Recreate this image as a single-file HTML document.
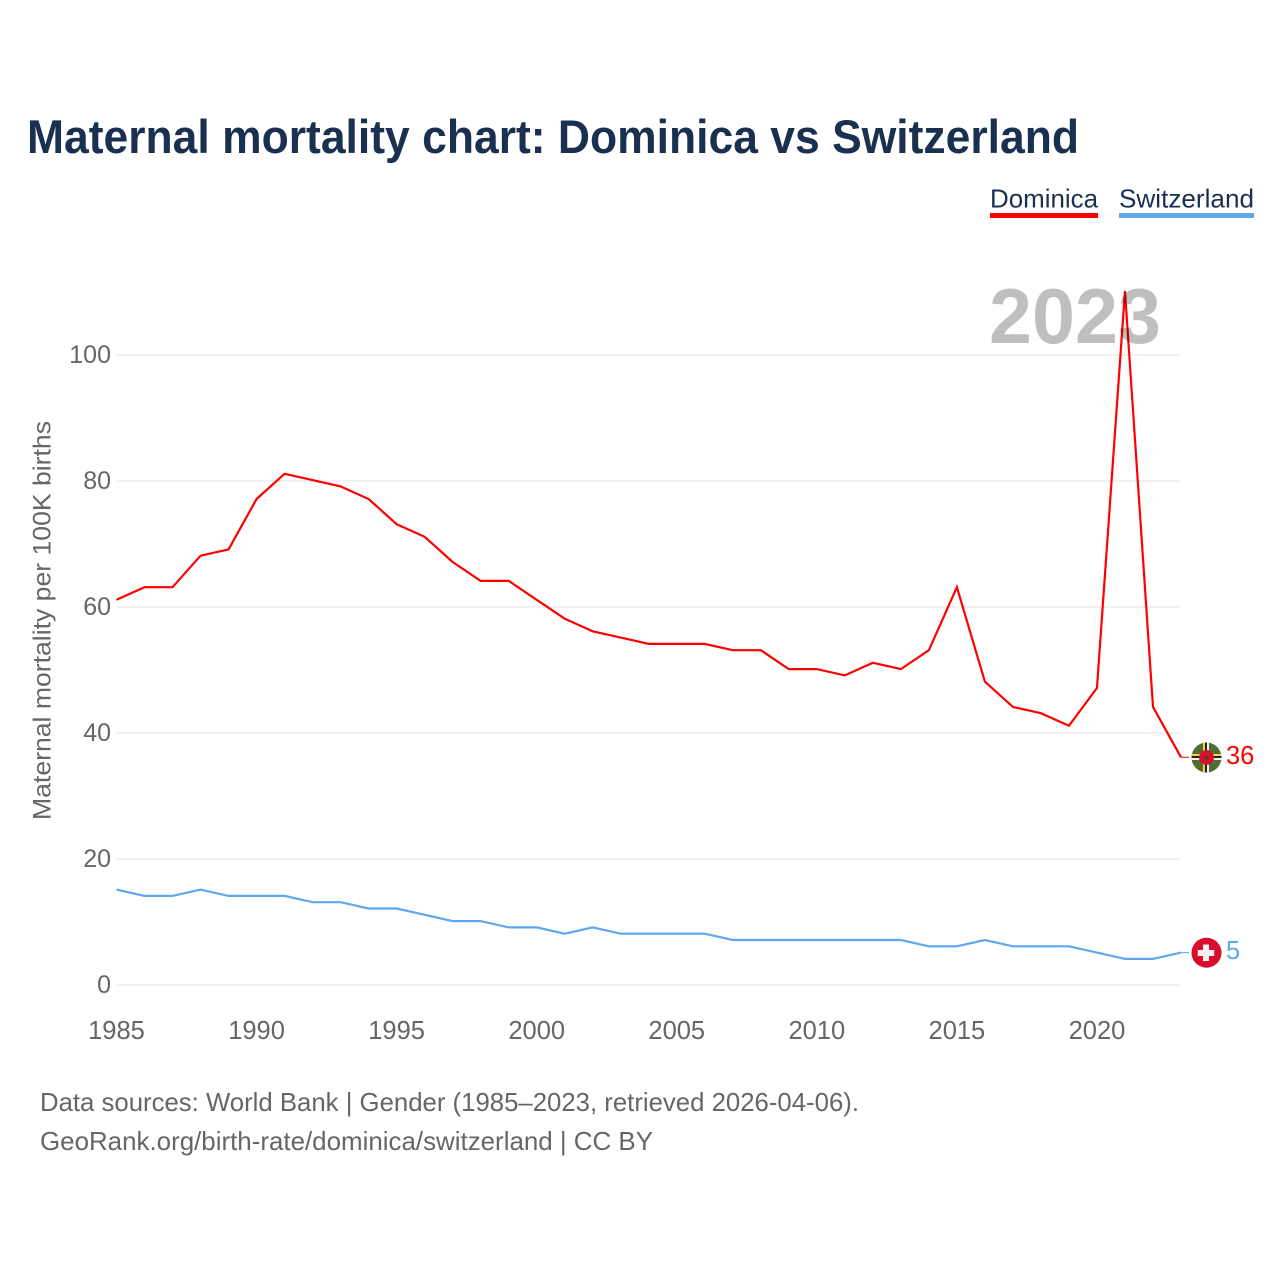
<!DOCTYPE html>
<html lang="en">
<head>
<meta charset="utf-8">
<title>Maternal mortality chart: Dominica vs Switzerland</title>
<style>
html,body{margin:0;padding:0;background:#fff;}
svg{display:block;}
text{font-family:"Liberation Sans",Arial,sans-serif;}
</style>
</head>
<body>
<svg id="chart" width="1280" height="1280" viewBox="0 0 1280 1280" xmlns="http://www.w3.org/2000/svg">
  <rect x="0" y="0" width="1280" height="1280" fill="#ffffff"/>
  <text x="27" y="153" font-size="47" font-weight="700" fill="#1a3050" textLength="1052" lengthAdjust="spacingAndGlyphs">Maternal mortality chart: Dominica vs Switzerland</text>

  <g>
    <text x="990" y="207.5" font-size="26" fill="#1a3050" textLength="108" lengthAdjust="spacingAndGlyphs">Dominica</text>
    <rect x="990" y="213" width="108" height="5" fill="#ff0000"/>
  </g>
  <g>
    <text x="1119" y="207.5" font-size="26" fill="#1a3050" textLength="135" lengthAdjust="spacingAndGlyphs">Switzerland</text>
    <rect x="1119" y="213" width="135" height="5" fill="#5fa8ee"/>
  </g>

  <g id="grid"></g>
  <g id="yticks"></g>
  <g id="xticks"></g>

  <text transform="translate(50.5,820) rotate(-90)" x="0" y="0" font-size="25" fill="#666666" textLength="399" lengthAdjust="spacingAndGlyphs">Maternal mortality per 100K births</text>

  <g id="series" transform="translate(0,-0.9)"></g>

  <text x="989" y="343" font-size="78" font-weight="700" fill="#000000" fill-opacity="0.25" textLength="172" lengthAdjust="spacingAndGlyphs">2023</text>

  <defs>
    <clipPath id="flag-clip-dm"><circle cx="1206.5" cy="757.5" r="15"/></clipPath>
    <clipPath id="flag-clip-ch"><circle cx="1206.5" cy="952.7" r="15"/></clipPath>
  </defs>

  <g clip-path="url(#flag-clip-dm)">
    <rect x="1191" y="742" width="31" height="31" fill="#4f7030"/>
    <rect x="1203" y="742" width="2" height="31" fill="#f5d442"/>
    <rect x="1205" y="742" width="2" height="31" fill="#222222"/>
    <rect x="1207" y="742" width="2" height="31" fill="#f4f4f4"/>
    <rect x="1191" y="754" width="31" height="2" fill="#f5d442"/>
    <rect x="1191" y="756" width="31" height="2" fill="#222222"/>
    <rect x="1191" y="758" width="31" height="2" fill="#f4f4f4"/>
    <circle cx="1206.5" cy="757.5" r="7.5" fill="#d8112f"/>
    <circle cx="1206.5" cy="757.5" r="2" fill="#5b3a1c"/>
  </g>
  <g clip-path="url(#flag-clip-ch)">
    <rect x="1191" y="937" width="31" height="31" fill="#da0b2d"/>
    <rect x="1203" y="944.5" width="6" height="16.5" fill="#f2f2f2"/>
    <rect x="1197.7" y="950" width="16.5" height="6" fill="#f2f2f2"/>
  </g>

  <text id="label-dm" x="1226" y="764" font-size="25.5" fill="#ff0000"></text>
  <text id="label-ch" x="1226" y="959" font-size="25.5" fill="#5fa8ee"></text>

  <text x="40" y="1111" font-size="26" fill="#666666" textLength="819" lengthAdjust="spacingAndGlyphs">Data sources: World Bank | Gender (1985–2023, retrieved 2026-04-06).</text>
  <text x="40" y="1150" font-size="26" fill="#666666" textLength="613" lengthAdjust="spacingAndGlyphs">GeoRank.org/birth-rate/dominica/switzerland | CC BY</text>
</svg>
<script>
const years = [1985,1986,1987,1988,1989,1990,1991,1992,1993,1994,1995,1996,1997,1998,1999,2000,2001,2002,2003,2004,2005,2006,2007,2008,2009,2010,2011,2012,2013,2014,2015,2016,2017,2018,2019,2020,2021,2022,2023];
const dominica = [61,63,63,68,69,77,81,80,79,77,73,71,67,64,64,61,58,56,55,54,54,54,53,53,50,50,49,51,50,53,63,48,44,43,41,47,110,44,36];
const switzerland = [15,14,14,15,14,14,14,13,13,12,12,11,10,10,9,9,8,9,8,8,8,8,7,7,7,7,7,7,7,6,6,7,6,6,6,5,4,4,5];
const yTicks = [0,20,40,60,80,100];
const xTicks = [1985,1990,1995,2000,2005,2010,2015,2020];

const NS = 'http://www.w3.org/2000/svg';
const x0 = 116.5, x1 = 1181, y0 = 985, y100 = 355;
function xScale(year){ return x0 + (year - 1985) * (x1 - x0) / (2023 - 1985); }
function yScale(v){ return y0 + v * (y100 - y0) / 100; }

const grid = document.getElementById('grid');
const yG = document.getElementById('yticks');
const xG = document.getElementById('xticks');
const seriesG = document.getElementById('series');

yTicks.forEach(function(t){
  const l = document.createElementNS(NS,'line');
  
  
  l.setAttribute('x1', x0);
  l.setAttribute('x2', x1);
  l.setAttribute('y1', yScale(t));
  l.setAttribute('y2', yScale(t));
  l.setAttribute('stroke', '#eeeeee');
  l.setAttribute('stroke-width', '1.6');
  grid.appendChild(l);
  const s = document.createElementNS(NS,'text');
  
  
  s.setAttribute('x', 111);
  s.setAttribute('y', yScale(t) + 8);
  s.setAttribute('font-size', '25');
  s.setAttribute('fill', '#666666');
  s.setAttribute('text-anchor', 'end');
  s.textContent = t;
  yG.appendChild(s);
});

xTicks.forEach(function(t){
  const s = document.createElementNS(NS,'text');
  
  
  s.setAttribute('x', xScale(t));
  s.setAttribute('y', 1039);
  s.setAttribute('font-size', '25.5');
  s.setAttribute('fill', '#666666');
  s.setAttribute('text-anchor', 'middle');
  s.textContent = t;
  xG.appendChild(s);
});

function pathFor(values){
  return values.map(function(v,i){ return (i ? 'L' : 'M') + xScale(years[i]).toFixed(2) + ' ' + yScale(v).toFixed(2); }).join(' ');
}

const lineCh = document.createElementNS(NS,'path');


lineCh.setAttribute('d', pathFor(switzerland));
lineCh.setAttribute('fill', 'none');
lineCh.setAttribute('stroke', '#5fa8ee');
lineCh.setAttribute('stroke-width', '2.2');
seriesG.appendChild(lineCh);

const lineDm = document.createElementNS(NS,'path');


lineDm.setAttribute('d', pathFor(dominica));
lineDm.setAttribute('fill', 'none');
lineDm.setAttribute('stroke', '#ff0000');
lineDm.setAttribute('stroke-width', '2.2');
seriesG.appendChild(lineDm);

const stubDm = document.createElementNS(NS,'line');


stubDm.setAttribute('x1', x1);
stubDm.setAttribute('x2', 1189);
stubDm.setAttribute('y1', yScale(dominica[dominica.length - 1]));
stubDm.setAttribute('y2', yScale(dominica[dominica.length - 1]));
stubDm.setAttribute('stroke', '#ff0000');
stubDm.setAttribute('stroke-width', '1');
seriesG.appendChild(stubDm);

const stubCh = document.createElementNS(NS,'line');


stubCh.setAttribute('x1', x1);
stubCh.setAttribute('x2', 1189);
stubCh.setAttribute('y1', yScale(switzerland[switzerland.length - 1]));
stubCh.setAttribute('y2', yScale(switzerland[switzerland.length - 1]));
stubCh.setAttribute('stroke', '#5fa8ee');
stubCh.setAttribute('stroke-width', '1');
seriesG.appendChild(stubCh);

document.getElementById('label-dm').textContent = dominica[dominica.length - 1];
document.getElementById('label-ch').textContent = switzerland[switzerland.length - 1];
</script>
</body>
</html>
